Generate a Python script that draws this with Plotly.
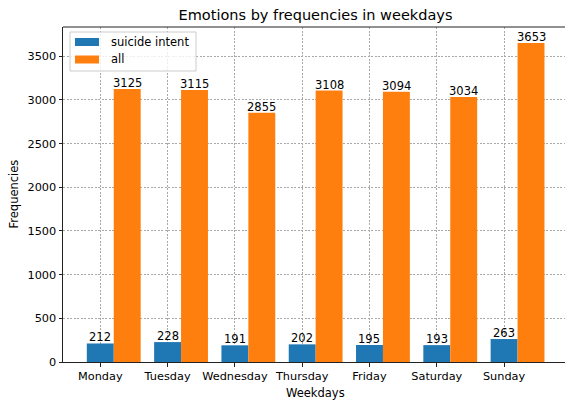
import plotly.graph_objects as go

days = ["Monday", "Tuesday", "Wednesday", "Thursday", "Friday", "Saturday", "Sunday"]
suicide_intent = [212, 228, 191, 202, 195, 193, 263]
all_counts = [3125, 3115, 2855, 3108, 3094, 3034, 3653]
y_ticks = [0, 500, 1000, 1500, 2000, 2500, 3000, 3500]
series_names = ["suicide intent", "all"]
colors = ["#1f77b4", "#ff7f0e"]

W = 0.4
pos = list(range(len(days)))
FIG_W, FIG_H = 565, 403
L, R, T, B = 63, 0, 27, 41
PW, PH = FIG_W - L - R, FIG_H - T - B


def px(xp):
    return (xp - L) / PW


def py(yp):
    return (FIG_H - B - yp) / PH


fig = go.Figure()
series = [suicide_intent, all_counts]
for k, vals in enumerate(series):
    xs = [p + k * W for p in pos]
    fig.add_trace(go.Bar(
        x=xs, y=vals, width=W, name=series_names[k],
        marker=dict(color=colors[k], line=dict(width=0)),
        showlegend=False, hoverinfo="skip",
    ))
    for xv, yv in zip(xs, vals):
        fig.add_annotation(x=xv, y=yv, text=str(yv), showarrow=False,
                           xanchor="center", yanchor="bottom", yshift=-3,
                           font=dict(size=11.5, color="black", family="DejaVu Sans"))

ymax = max(all_counts) * 1.05
grid = dict(showgrid=True, gridcolor="#a8a8a8", gridwidth=0.6, griddash="2px,1.5px")
axis_common = dict(showline=True, linecolor="#222222", linewidth=1,
                   ticks="outside", ticklen=3.5, tickcolor="#222222", zeroline=False,
                   tickfont=dict(size=11.3, color="black"))
fig.update_layout(
    width=FIG_W, height=FIG_H,
    margin=dict(l=L, r=R, t=T, b=B, autoexpand=False),
    paper_bgcolor="white", plot_bgcolor="white",
    barmode="overlay",
    font=dict(family="DejaVu Sans", size=11, color="black"),
    title=dict(text="Emotions by frequencies in weekdays", xref="container",
               x=315.5 / FIG_W, xanchor="center",
               y=1 - 14.5 / FIG_H, yanchor="middle", font=dict(size=14.5)),
    showlegend=False,
    hovermode=False,
    xaxis=dict(range=[-0.554, 6.905], tickmode="array", tickvals=pos, ticktext=days,
               **grid, **axis_common),
    yaxis=dict(range=[0, ymax], tickmode="array", tickvals=y_ticks,
               **grid, **axis_common),
)
# top spine
fig.add_shape(type="line", xref="paper", yref="paper", x0=0, x1=1, y0=1, y1=1,
              line=dict(color="#222222", width=1))
# axis titles
fig.add_annotation(text="Weekdays", xref="paper", yref="paper", x=px(315), y=py(392.5),
                   showarrow=False, xanchor="center", yanchor="middle",
                   font=dict(size=11.5))
fig.add_annotation(text="Frequencies", xref="paper", yref="paper", x=px(13), y=py(194.5),
                   showarrow=False, xanchor="center", yanchor="middle", textangle=-90,
                   font=dict(size=11.5))
# legend (matplotlib style)
fig.add_shape(type="rect", xref="paper", yref="paper", layer="above",
              x0=px(70), x1=px(196), y0=py(71), y1=py(32),
              fillcolor="rgba(255,255,255,0.8)", line=dict(color="#cccccc", width=1))
legend_rows = [(38, 46, 42), (55.5, 63.5, 59.5)]
for k, (y0, y1, yc) in enumerate(legend_rows):
    fig.add_shape(type="rect", xref="paper", yref="paper", layer="above",
                  x0=px(75), x1=px(99), y0=py(y1), y1=py(y0),
                  fillcolor=colors[k], line=dict(width=0))
    fig.add_annotation(text=series_names[k], xref="paper", yref="paper",
                       x=px(109), y=py(yc), showarrow=False,
                       xanchor="left", yanchor="middle", font=dict(size=11.5))

fig.write_html("out.html", config={"displayModeBar": False},
               post_script="document.body.style.margin='0px';")
